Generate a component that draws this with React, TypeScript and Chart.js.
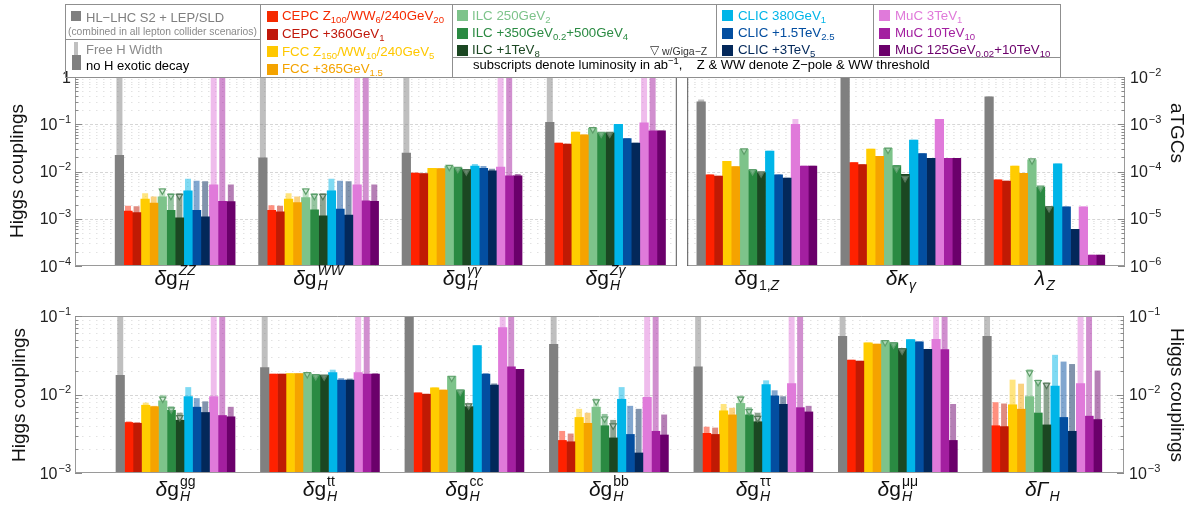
import React, { useEffect, useRef } from 'react';
import { Chart, registerables } from 'chart.js';
Chart.register(...registerables);

const FONT = '"Liberation Sans", Arial, Helvetica, sans-serif';

// ---------------- categories (order used by every value array) ----------------
// ZZ, WW, γγ, Zγ | g1Z, κγ, λZ (aTGC) | gg, tt, cc, bb, ττ, μμ, ΓH
const categoryKeys = ['ZZ', 'WW', 'γγ', 'Zγ', 'g1Z', 'κγ', 'λZ', 'gg', 'tt', 'cc', 'bb', 'ττ', 'μμ', 'ΓH'];
const topHiggsCats = [0, 1, 2, 3];
const atgcCats = [4, 5, 6];
const bottomCats = [7, 8, 9, 10, 11, 12, 13];

type Seg = { t: string; i?: boolean };
type MathLabel = { main: Seg[]; sub?: Seg[]; sup?: Seg[] };
const dg: Seg[] = [{ t: 'δ', i: true }, { t: 'g' }];
const H: Seg[] = [{ t: 'H', i: true }];
const categoryLabels: MathLabel[] = [
  { main: dg, sub: H, sup: [{ t: 'ZZ', i: true }] },
  { main: dg, sub: H, sup: [{ t: 'WW', i: true }] },
  { main: dg, sub: H, sup: [{ t: 'γγ', i: true }] },
  { main: dg, sub: H, sup: [{ t: 'Zγ', i: true }] },
  { main: dg, sub: [{ t: '1,' }, { t: 'Z', i: true }] },
  { main: [{ t: 'δκ', i: true }], sub: [{ t: 'γ', i: true }] },
  { main: [{ t: 'λ', i: true }], sub: [{ t: 'Z', i: true }] },
  { main: dg, sub: H, sup: [{ t: 'gg' }] },
  { main: dg, sub: H, sup: [{ t: 'tt' }] },
  { main: dg, sub: H, sup: [{ t: 'cc' }] },
  { main: dg, sub: H, sup: [{ t: 'bb' }] },
  { main: dg, sub: H, sup: [{ t: 'ττ' }] },
  { main: dg, sub: H, sup: [{ t: 'μμ' }] },
  { main: [{ t: 'δΓ', i: true }], sub: H },
];

// ---------------- values: "no H exotic decay" (solid) and "free H width" (light) ----------------
const hlLhc = [0.022, 0.0195, 0.0245, 0.11, 3.0e-3, 1.0e-2, 3.8e-3, 0.0175, 0.022, 0.12, 0.0437, 0.0225, 0.055, 0.055];
const hlLhcFree = [5, 5, 5, 5, 3.3e-3, 1.2e-2, 3.8e-3, 0.5, 0.5, 0.5, 0.5, 0.5, 0.5, 0.5];
const cepc240 = [1.45e-3, 1.5e-3, 9.3e-3, 0.04, 8.5e-5, 1.55e-4, 6.7e-5, 4.4e-3, 0.0182, 0.0105, 2.6e-3, 3.2e-3, 0.0274, 4.0e-3];
const cepc240Free = [1.85e-3, 1.9e-3, 9.3e-3, 0.04, 8.5e-5, 1.55e-4, 6.7e-5, 4.5e-3, 0.0182, 0.0105, 3.4e-3, 3.85e-3, 0.0274, 7.9e-3];
const cepc360 = [1.35e-3, 1.4e-3, 9.0e-3, 0.038, 8.0e-5, 1.4e-4, 6.3e-5, 4.3e-3, 0.0182, 0.0101, 2.5e-3, 3.1e-3, 0.0266, 3.9e-3];
const cepc360Free = [1.8e-3, 1.85e-3, 9.0e-3, 0.038, 8.0e-5, 1.4e-4, 6.3e-5, 4.4e-3, 0.0182, 0.0101, 3.15e-3, 3.75e-3, 0.0266, 7.6e-3];
const fcc240 = [2.6e-3, 2.6e-3, 0.0117, 0.068, 1.65e-4, 3.0e-4, 1.31e-4, 7.3e-3, 0.0185, 0.0122, 5.1e-3, 6.2e-3, 0.0455, 7.4e-3];
const fcc240Free = [3.4e-3, 3.4e-3, 0.0117, 0.068, 1.65e-4, 3.0e-4, 1.31e-4, 7.8e-3, 0.0185, 0.0122, 6.5e-3, 7.5e-3, 0.0455, 0.0153];
const fcc365 = [2.15e-3, 2.2e-3, 0.0115, 0.06, 1.27e-4, 2.1e-4, 9.2e-5, 7.0e-3, 0.0185, 0.0114, 4.3e-3, 5.5e-3, 0.044, 6.5e-3];
const fcc365Free = [2.9e-3, 2.9e-3, 0.0115, 0.06, 1.27e-4, 2.1e-4, 9.2e-5, 7.1e-3, 0.0185, 0.0114, 5.8e-3, 6.7e-3, 0.044, 0.0136];
const ilc250 = [2.9e-3, 2.8e-3, 0.0131, 0.082, 2.94e-4, 3.1e-4, 1.76e-4, 8.3e-3, 0.0188, 0.017, 6.9e-3, 7.7e-3, 0.048, 9.4e-3];
const ilc250Free = [4.4e-3, 4.4e-3, 0.0131, 0.082, 2.94e-4, 3.1e-4, 1.76e-4, 9.8e-3, 0.0188, 0.017, 8.8e-3, 9.6e-3, 0.048, 0.0209];
const ilc500 = [1.5e-3, 1.55e-3, 0.012, 0.066, 1.07e-4, 1.34e-4, 4.7e-5, 6.3e-3, 0.0178, 0.0114, 4.0e-3, 5.5e-3, 0.0455, 5.8e-3];
const ilc500Free = [3.4e-3, 3.4e-3, 0.012, 0.066, 1.07e-4, 1.34e-4, 4.7e-5, 7.0e-3, 0.0178, 0.0114, 5.6e-3, 6.8e-3, 0.0455, 0.0153];
const ilc1t = [1.05e-3, 1.15e-3, 0.011, 0.066, 9.5e-5, 8.7e-5, 1.78e-5, 4.7e-3, 0.0175, 7.0e-3, 2.8e-3, 4.5e-3, 0.0385, 4.1e-3];
const ilc1tFree = [3.4e-3, 3.4e-3, 0.011, 0.066, 9.5e-5, 8.7e-5, 1.78e-5, 5.8e-3, 0.0175, 7.6e-3, 4.7e-3, 5.8e-3, 0.0385, 0.0141];
const clic380 = [3.9e-3, 3.9e-3, 0.013, 0.1, 2.7e-4, 4.6e-4, 1.45e-4, 9.4e-3, 0.019, 0.042, 8.7e-3, 0.0134, 0.05, 0.0128];
const clic380Free = [6.9e-3, 6.9e-3, 0.0142, 0.1, 2.7e-4, 4.6e-4, 1.45e-4, 0.0123, 0.0205, 0.042, 0.0123, 0.015, 0.05, 0.0317];
const clic1500 = [1.5e-3, 1.6e-3, 0.0117, 0.05, 8.5e-5, 2.4e-4, 1.78e-5, 6.9e-3, 0.0153, 0.0182, 3.1e-3, 9.6e-3, 0.047, 5.1e-3];
const clic1500Free = [6.3e-3, 6.3e-3, 0.0128, 0.05, 8.5e-5, 2.4e-4, 1.78e-5, 8.9e-3, 0.016, 0.0185, 7.1e-3, 0.0112, 0.047, 0.026];
const clic3000 = [1.1e-3, 1.2e-3, 0.0103, 0.04, 7.3e-5, 1.9e-4, 6.0e-6, 5.9e-3, 0.0153, 0.0132, 1.8e-3, 7.5e-3, 0.0377, 3.4e-3];
const clic3000Free = [6.1e-3, 6.1e-3, 0.0113, 0.04, 7.3e-5, 1.9e-4, 6.0e-6, 8.1e-3, 0.0158, 0.0137, 6.5e-3, 9.4e-3, 0.0377, 0.0242];
const muc3 = [5.2e-3, 5.2e-3, 0.0124, 0.107, 1.0e-3, 1.27e-3, 1.78e-5, 9.4e-3, 0.019, 0.071, 9.2e-3, 0.0138, 0.0506, 0.0138];
const muc3Free = [5, 5, 5, 5, 1.27e-3, 1.27e-3, 1.78e-5, 0.5, 0.5, 0.5, 0.5, 0.5, 0.5, 0.5];
const muc10 = [2.35e-3, 2.4e-3, 8.1e-3, 0.073, 1.3e-4, 1.9e-4, 1.7e-6, 5.4e-3, 0.0182, 0.0225, 3.4e-3, 6.8e-3, 0.0374, 5.3e-3];
const muc10Free = [5, 5, 5, 5, 1.3e-4, 1.9e-4, 1.7e-6, 0.5, 0.5, 0.5, 0.5, 0.5, 0.5, 0.5];
const muc125 = [2.3e-3, 2.35e-3, 8.1e-3, 0.073, 1.3e-4, 1.9e-4, 1.7e-6, 5.2e-3, 0.0182, 0.0209, 3.05e-3, 6.0e-3, 2.6e-3, 4.8e-3];
const muc125Free = [5.2e-3, 5.2e-3, 8.7e-3, 0.073, 1.3e-4, 1.9e-4, 1.7e-6, 6.9e-3, 0.0185, 0.0209, 5.5e-3, 7.1e-3, 7.5e-3, 0.02];
// ILC with Giga-Z (triangles)
const ilc250GigaZ = [3.9e-3, 3.9e-3, 0.0124, 0.078, 2.75e-4, 2.85e-4, 1.7e-4, 8.8e-3, 0.018, 0.0162, 8.1e-3, 8.8e-3, 0.046, 0.019];
const ilc500GigaZ = [3.0e-3, 3.0e-3, 0.0112, 0.062, 1.0e-4, 1.15e-4, 4.5e-5, 6.4e-3, 0.017, 0.0108, 4.9e-3, 6.1e-3, 0.043, 0.0143];
const ilc1tGigaZ = [3.0e-3, 3.0e-3, 0.0099, 0.062, 9.0e-5, 7.2e-5, 1.65e-5, 5.1e-3, 0.0168, 7.2e-3, 4.0e-3, 5.0e-3, 0.036, 0.0132];

const rgba = (hex: string, a: number) => {
  const n = parseInt(hex.slice(1), 16);
  return `rgba(${(n >> 16) & 255},${(n >> 8) & 255},${n & 255},${a})`;
};

const SERIES = [
  { name: 'HL-LHC S2 + LEP/SLD', color: '#808080', solid: hlLhc, free: hlLhcFree },
  { name: 'CEPC 240GeV', color: '#ff2100', solid: cepc240, free: cepc240Free },
  { name: 'CEPC +360GeV', color: '#c01a04', solid: cepc360, free: cepc360Free },
  { name: 'FCC 240GeV', color: '#ffcc00', solid: fcc240, free: fcc240Free },
  { name: 'FCC +365GeV', color: '#f5a300', solid: fcc365, free: fcc365Free },
  { name: 'ILC 250GeV', color: '#7dc38a', solid: ilc250, free: ilc250Free },
  { name: 'ILC +500GeV', color: '#2a8a42', solid: ilc500, free: ilc500Free },
  { name: 'ILC +1TeV', color: '#1b4722', solid: ilc1t, free: ilc1tFree },
  { name: 'CLIC 380GeV', color: '#00b5e8', solid: clic380, free: clic380Free },
  { name: 'CLIC +1.5TeV', color: '#034ea0', solid: clic1500, free: clic1500Free },
  { name: 'CLIC +3TeV', color: '#03285a', solid: clic3000, free: clic3000Free },
  { name: 'MuC 3TeV', color: '#e07ada', solid: muc3, free: muc3Free },
  { name: 'MuC 10TeV', color: '#a31fa0', solid: muc10, free: muc10Free },
  { name: 'MuC 125GeV+10TeV', color: '#6b006b', solid: muc125, free: muc125Free },
];
const GIGAZ = [
  { slot: 5, values: ilc250GigaZ, edge: '#5e9e6a' },
  { slot: 6, values: ilc500GigaZ, edge: '#5c9f6c' },
  { slot: 7, values: ilc1tGigaZ, edge: '#55775a' },
];

type Title = { text: string; x: number; y: number; rot: number };
type Panel = {
  cats: number[];
  w: number; h: number;
  pad: { left: number; right: number; top: number; bottom: number };
  xMin: number; xMax: number; yMin: number; yMax: number;
  barW: number;
  leftLabels: boolean; rightLabels: boolean;
  leftTicks: boolean; rightTicks: boolean;
  leftEdge: string; rightEdge: string;
  labelBase: number;
  titles: Title[];
};

const TOP_LEFT: Panel = {
  cats: topHiggsCats, w: 682, h: 300,
  pad: { left: 75, right: 0, top: 77, bottom: 34 },
  xMin: -0.698, xMax: 3.497, yMin: 1e-4, yMax: 1, barW: 8.57,
  leftLabels: true, rightLabels: false, leftTicks: true, rightTicks: false,
  leftEdge: '#9a9a9a', rightEdge: '#555555', labelBase: 285,
  titles: [{ text: 'Higgs couplings', x: 18, y: 171, rot: -Math.PI / 2 }],
};
const TOP_RIGHT: Panel = {
  cats: atgcCats, w: 502, h: 300,
  pad: { left: 3, right: 59, top: 77, bottom: 34 },
  xMin: -0.4838, xMax: 2.557, yMin: 1e-6, yMax: 1e-2, barW: 8.57,
  leftLabels: false, rightLabels: true, leftTicks: false, rightTicks: true,
  leftEdge: '#555555', rightEdge: '#9a9a9a', labelBase: 285,
  titles: [{ text: 'aTGCs', x: 494, y: 133, rot: Math.PI / 2 }],
};
const BOTTOM: Panel = {
  cats: bottomCats, w: 1184, h: 205,
  pad: { left: 75, right: 60, top: 16, bottom: 32 },
  xMin: -0.6956, xMax: 6.5654, yMin: 1e-3, yMax: 1e-1, barW: 8.5,
  leftLabels: true, rightLabels: true, leftTicks: true, rightTicks: true,
  leftEdge: '#9a9a9a', rightEdge: '#9a9a9a', labelBase: 196,
  titles: [
    { text: 'Higgs couplings', x: 20, y: 95, rot: -Math.PI / 2 },
    { text: 'Higgs couplings', x: 1176, y: 95, rot: Math.PI / 2 },
  ],
};

function line(ctx: CanvasRenderingContext2D, x1: number, y1: number, x2: number, y2: number, c: string) {
  ctx.strokeStyle = c;
  ctx.beginPath();
  ctx.moveTo(x1, y1);
  ctx.lineTo(x2, y2);
  ctx.stroke();
}

function drawPow(ctx: CanvasRenderingContext2D, e: number, x: number, cy: number, align: 'left' | 'right') {
  const big = `16px ${FONT}`;
  const small = `11px ${FONT}`;
  const base = cy + 5.5;
  ctx.fillStyle = '#222';
  ctx.textAlign = 'left';
  ctx.textBaseline = 'alphabetic';
  if (e === 0) {
    ctx.font = big;
    const w = ctx.measureText('1').width;
    ctx.fillText('1', align === 'right' ? x - w : x, base);
    return;
  }
  ctx.font = big;
  const w1 = ctx.measureText('10').width;
  const s = '\u2212' + Math.abs(e);
  ctx.font = small;
  const w2 = ctx.measureText(s).width;
  const x0 = align === 'right' ? x - w1 - w2 - 1 : x;
  ctx.font = big;
  ctx.fillText('10', x0, base);
  ctx.font = small;
  ctx.fillText(s, x0 + w1 + 1, base - 7);
}

function segW(ctx: CanvasRenderingContext2D, segs: Seg[], size: number) {
  let w = 0;
  for (const s of segs) {
    ctx.font = `${s.i ? 'italic ' : ''}${size}px ${FONT}`;
    w += ctx.measureText(s.t).width;
  }
  return w;
}
function segDraw(ctx: CanvasRenderingContext2D, segs: Seg[], size: number, x: number, y: number) {
  for (const s of segs) {
    ctx.font = `${s.i ? 'italic ' : ''}${size}px ${FONT}`;
    ctx.fillText(s.t, x, y);
    x += ctx.measureText(s.t).width;
  }
}
function drawMath(ctx: CanvasRenderingContext2D, lab: MathLabel, cx: number, base: number) {
  const M = 21, S = 14;
  const mw = segW(ctx, lab.main, M);
  const sw = lab.sub ? segW(ctx, lab.sub, S) : 0;
  const pw = lab.sup ? segW(ctx, lab.sup, S) : 0;
  const total = mw + 1 + Math.max(sw, pw);
  const x0 = cx - total / 2;
  ctx.fillStyle = '#111';
  ctx.textAlign = 'left';
  ctx.textBaseline = 'alphabetic';
  segDraw(ctx, lab.main, M, x0, base);
  if (lab.sub) segDraw(ctx, lab.sub, S, x0 + mw + 1, base + 5);
  if (lab.sup) segDraw(ctx, lab.sup, S, x0 + mw + 1, base - 10);
}

function decorPlugin(p: Panel) {
  const d0 = Math.round(Math.log10(p.yMin));
  const d1 = Math.round(Math.log10(p.yMax));
  return {
    id: 'decor',
    beforeDatasetsDraw(chart: any) {
      const { ctx, chartArea: a } = chart;
      const ys = chart.scales.y;
      ctx.save();
      ctx.lineWidth = 1;
      for (let d = d0; d < d1; d++) {
        for (let k = 1; k <= 9; k++) {
          if (k === 1 && d === d0) continue;
          const py = Math.round(ys.getPixelForValue(k * Math.pow(10, d))) + 0.5;
          ctx.setLineDash(k === 1 ? [3, 2] : [1.5, 5.5]);
          line(ctx, a.left, py, a.right, py, k === 1 ? '#d6d6d6' : '#e2e2e2');
        }
      }
      ctx.restore();
    },
    afterDraw(chart: any) {
      const { ctx, chartArea: a } = chart;
      const ys = chart.scales.y;
      const xs = chart.scales.x;
      ctx.save();
      ctx.setLineDash([]);
      ctx.lineWidth = 1;
      line(ctx, a.left, a.top + 0.5, a.right, a.top + 0.5, '#9a9a9a');
      line(ctx, a.left, a.bottom - 0.5, a.right, a.bottom - 0.5, '#9a9a9a');
      line(ctx, a.left + 0.5, a.top, a.left + 0.5, a.bottom, p.leftEdge);
      line(ctx, a.right - 0.5, a.top, a.right - 0.5, a.bottom, p.rightEdge);
      for (let d = d0; d <= d1; d++) {
        for (let k = 1; k <= 9; k++) {
          const v = k * Math.pow(10, d);
          if (v > p.yMax * 1.0001) break;
          const py = Math.round(ys.getPixelForValue(v)) + 0.5;
          const len = k === 1 ? 7 : 3.5;
          if (p.leftTicks) line(ctx, a.left, py, a.left + len, py, '#8a8a8a');
          if (p.rightTicks) line(ctx, a.right - len, py, a.right, py, '#8a8a8a');
        }
        const py = ys.getPixelForValue(Math.pow(10, d));
        if (p.leftLabels) drawPow(ctx, d, a.left - 4, py, 'right');
        if (p.rightLabels) drawPow(ctx, d, a.right + 5, py, 'left');
      }
      p.cats.forEach((c, i) => drawMath(ctx, categoryLabels[c], xs.getPixelForValue(i), p.labelBase));
      for (const t of p.titles) {
        ctx.save();
        ctx.translate(t.x, t.y);
        ctx.rotate(t.rot);
        ctx.font = `19px ${FONT}`;
        ctx.fillStyle = '#111';
        ctx.textAlign = 'center';
        ctx.textBaseline = 'middle';
        ctx.fillText(t.text, 0, 0);
        ctx.restore();
      }
      ctx.restore();
    },
  };
}

function buildChart(canvas: HTMLCanvasElement, p: Panel) {
  const unitPx = (p.w - p.pad.left - p.pad.right) / (p.xMax - p.xMin);
  const datasets: any[] = [];
  GIGAZ.forEach((g) => {
    datasets.push({
      type: 'line',
      label: 'w/Giga-Z',
      showLine: false,
      xAxisID: 'x',
      yAxisID: 'y',
      data: p.cats.map((c, i) => ({ x: i + ((g.slot - 6.5) * p.barW) / unitPx, y: g.values[c] })),
      pointStyle: 'triangle',
      rotation: 180,
      radius: 3.6,
      borderWidth: 1.2,
      borderColor: g.edge,
      backgroundColor: 'rgba(255,255,255,0.35)',
      order: 0,
    });
  });
  // solid and free-width bars of one scenario share a stack name -> same slot, overlapping
  SERIES.forEach((s, k) => {
    datasets.push({
      type: 'bar',
      label: s.name,
      stack: 's' + k,
      data: p.cats.map((c, i) => ({ x: i, y: s.solid[c] })),
      backgroundColor: s.color,
      borderWidth: 0,
      barThickness: p.barW,
      order: 1,
    });
  });
  SERIES.forEach((s, k) => {
    datasets.push({
      type: 'bar',
      label: s.name + ' (free H width)',
      stack: 's' + k,
      data: p.cats.map((c, i) => ({ x: i, y: s.free[c] })),
      backgroundColor: rgba(s.color, 0.5),
      borderWidth: 0,
      barThickness: p.barW,
      maxBarThickness: p.barW * 0.62,
      order: 2,
    });
  });
  return new Chart(canvas, {
    type: 'bar',
    data: { datasets },
    options: {
      responsive: false,
      animation: false,
      events: [],
      layout: { padding: p.pad },
      plugins: { legend: { display: false }, tooltip: { enabled: false } },
      scales: {
        x: { type: 'linear', min: p.xMin, max: p.xMax, display: false, offset: false },
        y: { type: 'logarithmic', min: p.yMin, max: p.yMax, display: false, stacked: false },
      },
    } as any,
    plugins: [decorPlugin(p) as any],
  });
}

// ---------------- legend ----------------
type Part = [string, string?];
type LegendItem = { parts: Part[]; color: string; x: number; cy: number; ix: number };
const legendItems: LegendItem[] = [
  { parts: [['CEPC Z', '100'], ['/WW', '6'], ['/240GeV', '20']], color: '#f52a00', x: 282, cy: 16, ix: 267 },
  { parts: [['CEPC +360GeV', '1']], color: '#c0170a', x: 282, cy: 34, ix: 267 },
  { parts: [['FCC Z', '150'], ['/WW', '10'], ['/240GeV', '5']], color: '#ffc800', x: 282, cy: 51.5, ix: 267 },
  { parts: [['FCC +365GeV', '1.5']], color: '#f4a300', x: 282, cy: 69, ix: 267 },
  { parts: [['ILC 250GeV', '2']], color: '#7dc38a', x: 472, cy: 15.5, ix: 457 },
  { parts: [['ILC +350GeV', '0.2'], ['+500GeV', '4']], color: '#2a8a42', x: 472, cy: 33, ix: 457 },
  { parts: [['ILC +1TeV', '8']], color: '#1b4722', x: 472, cy: 50, ix: 457 },
  { parts: [['CLIC 380GeV', '1']], color: '#00b5e8', x: 738, cy: 15.5, ix: 722 },
  { parts: [['CLIC +1.5TeV', '2.5']], color: '#034ea0', x: 738, cy: 33, ix: 722 },
  { parts: [['CLIC +3TeV', '5']], color: '#03285a', x: 738, cy: 50, ix: 722 },
  { parts: [['MuC 3TeV', '1']], color: '#e07ada', x: 895, cy: 15.5, ix: 879 },
  { parts: [['MuC 10TeV', '10']], color: '#a31fa0', x: 895, cy: 33, ix: 879 },
  { parts: [['MuC 125GeV', '0.02'], ['+10TeV', '10']], color: '#6b006b', x: 895, cy: 50, ix: 879 },
];

const abs = (l: number, t: number, w: number, h: number): React.CSSProperties => ({
  position: 'absolute', left: l, top: t, width: w, height: h,
});
const cell = (l: number, t: number, w: number, h: number): React.CSSProperties => ({
  ...abs(l, t, w, h), border: '1px solid #8f8f8f', boxSizing: 'border-box',
});
const txt = (x: number, cy: number, color: string, size: number): React.CSSProperties => ({
  position: 'absolute', left: x, top: cy, transform: 'translateY(-50%)', color, fontSize: size,
  lineHeight: 1, whiteSpace: 'pre',
});
const subStyle: React.CSSProperties = { fontSize: '0.72em', position: 'relative', top: '0.32em' };
const supStyle: React.CSSProperties = { fontSize: '0.72em', position: 'relative', top: '-0.45em' };

function Legend() {
  return (
    <div style={{ position: 'absolute', left: 0, top: 0, fontFamily: FONT }}>
      <div style={cell(65, 4, 196, 36)} />
      <div style={cell(65, 39, 196, 39)} />
      <div style={cell(260, 4, 193, 74)} />
      <div style={cell(452, 4, 265, 54)} />
      <div style={cell(716, 4, 158, 54)} />
      <div style={cell(873, 4, 188, 54)} />
      <div style={cell(452, 57, 609, 21)} />
      <div style={{ ...abs(71, 11, 10, 10), background: '#808080' }} />
      <div style={txt(86, 16.5, '#7f7f7f', 13)}>HL−LHC S2 + LEP/SLD</div>
      <div style={txt(68, 31.5, '#8a8a8a', 10.3)}>(combined in all lepton collider scenarios)</div>
      <div style={{ ...abs(74, 42, 4, 13), background: '#c0c0c0' }} />
      <div style={{ ...abs(72, 55, 9, 15), background: '#808080' }} />
      <div style={txt(86, 49, '#8a8a8a', 13)}>Free H Width</div>
      <div style={txt(86, 64.5, '#000', 13)}>no H exotic decay</div>
      {legendItems.map((it, k) => (
        <React.Fragment key={k}>
          <div style={{ ...abs(it.ix, it.cy - 5.5, 11, 11), background: it.color }} />
          <div style={txt(it.x, it.cy, it.color, 13.3)}>
            {it.parts.map(([t, s], j) => (
              <React.Fragment key={j}>
                {t}
                {s ? <span style={subStyle}>{s}</span> : null}
              </React.Fragment>
            ))}
          </div>
        </React.Fragment>
      ))}
      <div style={txt(650, 50, '#333', 12)}>▽</div>
      <div style={txt(662, 50.5, '#333', 10.5)}>w/Giga−Z</div>
      <div style={txt(473, 64.5, '#000', 13)}>
        subscripts denote luminosity in ab<span style={supStyle}>−1</span>{',    Z & WW denote Z−pole & WW threshold'}
      </div>
    </div>
  );
}

export default function App() {
  const tl = useRef<HTMLCanvasElement>(null);
  const tr = useRef<HTMLCanvasElement>(null);
  const bt = useRef<HTMLCanvasElement>(null);
  useEffect(() => {
    const charts = [buildChart(tl.current!, TOP_LEFT), buildChart(tr.current!, TOP_RIGHT), buildChart(bt.current!, BOTTOM)];
    return () => charts.forEach((c) => c.destroy());
  }, []);
  return (
    <div style={{ position: 'fixed', left: 0, top: 0, width: 1184, height: 505, background: '#fff', overflow: 'hidden', fontFamily: FONT }}>
      <canvas ref={tl} width={TOP_LEFT.w} height={TOP_LEFT.h} style={{ position: 'absolute', left: 0, top: 0 }} />
      <canvas ref={tr} width={TOP_RIGHT.w} height={TOP_RIGHT.h} style={{ position: 'absolute', left: 682, top: 0 }} />
      <canvas ref={bt} width={BOTTOM.w} height={BOTTOM.h} style={{ position: 'absolute', left: 0, top: 300 }} />
      <Legend />
    </div>
  );
}
